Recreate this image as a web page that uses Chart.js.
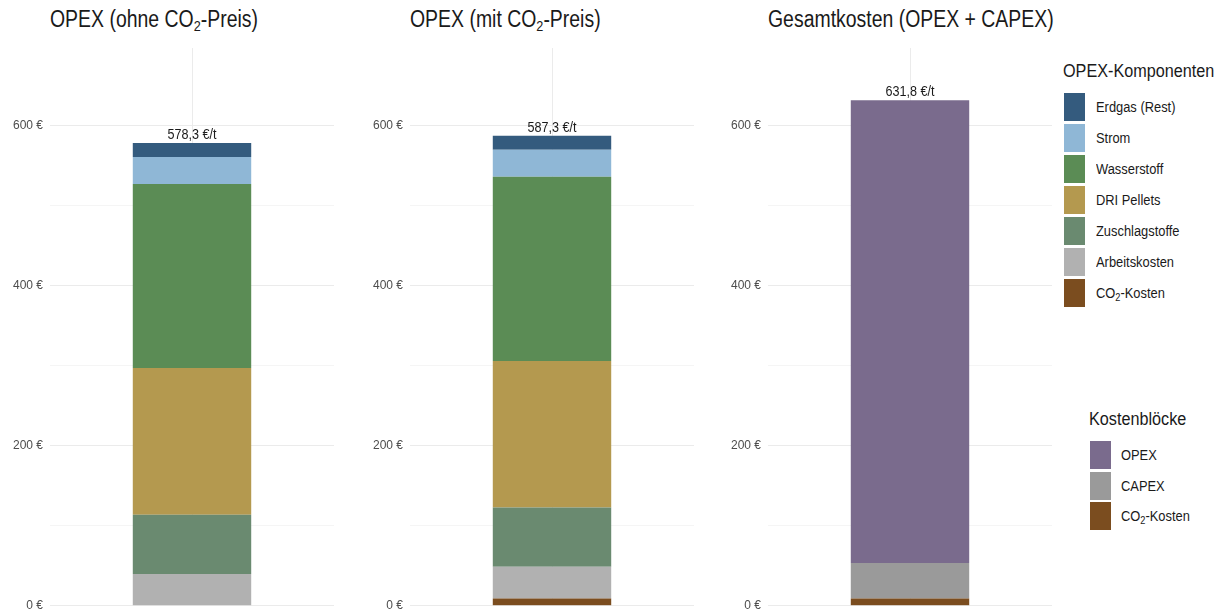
<!DOCTYPE html>
<html><head><meta charset="utf-8">
<script src="https://cdn.jsdelivr.net/npm/chart.js@4"></script>
<style>
html,body{margin:0;padding:0;background:#fff;width:1230px;height:613px;overflow:hidden;position:relative;font-family:"Liberation Sans",Arial,sans-serif;}
.cv{position:absolute;top:0;}
.title{position:absolute;top:6px;font-size:23px;color:#1a1a1a;white-space:nowrap;transform:scaleX(0.845);transform-origin:0 0;}
.title sub{font-size:15px;vertical-align:-4px;line-height:0;}
.lg{position:absolute;color:#1a1a1a;}
.lgt{font-size:18px;white-space:nowrap;transform:scaleX(0.9);transform-origin:0 0;}
.row{position:absolute;height:28px;white-space:nowrap;}
.sw{position:absolute;left:0;top:0;width:21px;height:28px;}
.lab{position:absolute;top:6px;font-size:14px;transform:scaleX(0.92);transform-origin:0 0;}
.lab sub{font-size:10px;vertical-align:-3px;line-height:0;}
</style></head>
<body>
<div class="title" style="left:50px">OPEX (ohne CO<sub>2</sub>-Preis)</div>
<div class="title" style="left:410px">OPEX (mit CO<sub>2</sub>-Preis)</div>
<div class="title" style="left:768px">Gesamtkosten (OPEX + CAPEX)</div>
<canvas id="c1" class="cv" style="left:0px"></canvas>
<canvas id="c2" class="cv" style="left:360px"></canvas>
<canvas id="c3" class="cv" style="left:718px"></canvas>
<div id="lg1" class="lg" style="left:1063px;top:61px"></div>
<div id="lg2" class="lg" style="left:1089px;top:409px"></div>
<script>
// ---- data ----
const components = ['Erdgas (Rest)','Strom','Wasserstoff','DRI Pellets','Zuschlagstoffe','Arbeitskosten','CO2-Kosten'];
const componentColors = ['#345b7e','#8fb7d6','#5b8c55','#b4994f','#6a8a70','#b1b1b1','#7b4d1f'];
const opexOhne = [17.4, 33.9, 230.0, 183.2, 74.0, 39.8, 0];
const opexMit  = [17.4, 33.9, 230.0, 183.2, 74.0, 39.8, 9.0];
const blocks = ['OPEX','CAPEX','CO2-Kosten'];
const blockColors = ['#7a6b8d','#9a9a9a','#7b4d1f'];
const gesamt = [578.3, 44.5, 9.0];
const yTicks = [0, 200, 400, 600];
const yMax = 697;
const unitLabel = ' €/t';

function fmt(v){ return v.toFixed(1).replace('.', ','); }
function html(name){ return name.replace('CO2','CO<sub>2</sub>'); }

// legends
function buildLegend(el, title, names, colors, swLeft, labLeft, pitch){
  let h = '<div class="lgt">'+title+'</div>';
  names.forEach((n,i)=>{
    h += '<div class="row" style="left:'+swLeft+'px;top:'+(32+i*pitch)+'px">'+
      '<div class="sw" style="background:'+colors[i]+'"></div>'+
      '<div class="lab" style="left:'+labLeft+'px">'+html(n)+'</div></div>';
  });
  el.innerHTML = h;
}
buildLegend(document.getElementById('lg1'),'OPEX-Komponenten',components,componentColors,1,32,31);
buildLegend(document.getElementById('lg2'),'Kostenblöcke',blocks,blockColors,1,31,30.5);

const totalLabel = {
  id:'totalLabel',
  afterDatasetsDraw(chart){
    const ctx = chart.ctx;
    const total = chart.data.datasets.reduce((s,d)=>s+d.data[0],0);
    const x = chart.scales.x.getPixelForValue(0);
    const y = chart.scales.y.getPixelForValue(total);
    ctx.save();
    ctx.translate(x, y-1);
    ctx.scale(0.9, 1);
    ctx.font = '14px "Liberation Sans",Arial,sans-serif';
    ctx.fillStyle = '#1a1a1a';
    ctx.textAlign = 'center';
    ctx.textBaseline = 'bottom';
    ctx.fillText(fmt(total)+unitLabel, 0, 0);
    ctx.restore();
  }
};

function makeChart(id, width, names, colors, values){
  const cv = document.getElementById(id);
  const H = 620;
  cv.width = width; cv.height = H;
  cv.style.width = width+'px'; cv.style.height = H+'px';
  // bottom to top: reverse order
  const ds = [];
  for(let i=names.length-1;i>=0;i--){
    ds.push({label:names[i], data:[values[i]], backgroundColor:colors[i], borderWidth:0,
      barPercentage:0.417, categoryPercentage:1});
  }
  return new Chart(cv, {
    type:'bar',
    data:{labels:[''], datasets:ds},
    options:{
      responsive:false, animation:false, devicePixelRatio:1,
      layout:{padding:{top:48,bottom:2,left:0,right:0}},
      plugins:{legend:{display:false},tooltip:{enabled:false}},
      scales:{
        x:{stacked:true, offset:true,
          grid:{offset:false, color:'#ebebeb', lineWidth:1, drawTicks:false},
          border:{display:false},
          ticks:{display:false},
          afterFit(s){ s.height = 0; }
        },
        y:{stacked:true, min:0, max:yMax,
          afterBuildTicks(s){ s.ticks = [0,100,200,300,400,500,600].map(v=>({value:v})); },
          grid:{color:c=> yTicks.includes(c.tick.value) ? '#ebebeb' : '#f5f5f5', lineWidth:1, drawTicks:false},
          border:{display:false},
          ticks:{padding:7, color:'#4d4d4d',
            font:{family:'"Liberation Sans",Arial,sans-serif', size:12},
            callback:v=> yTicks.includes(v) ? v+' €' : ''},
          afterFit(s){ s.width = 50; }
        }
      }
    },
    plugins:[totalLabel]
  });
}
makeChart('c1', 334, components, componentColors, opexOhne);
makeChart('c2', 334, components, componentColors, opexMit);
makeChart('c3', 334, blocks, blockColors, gesamt);
</script>
</body></html>
